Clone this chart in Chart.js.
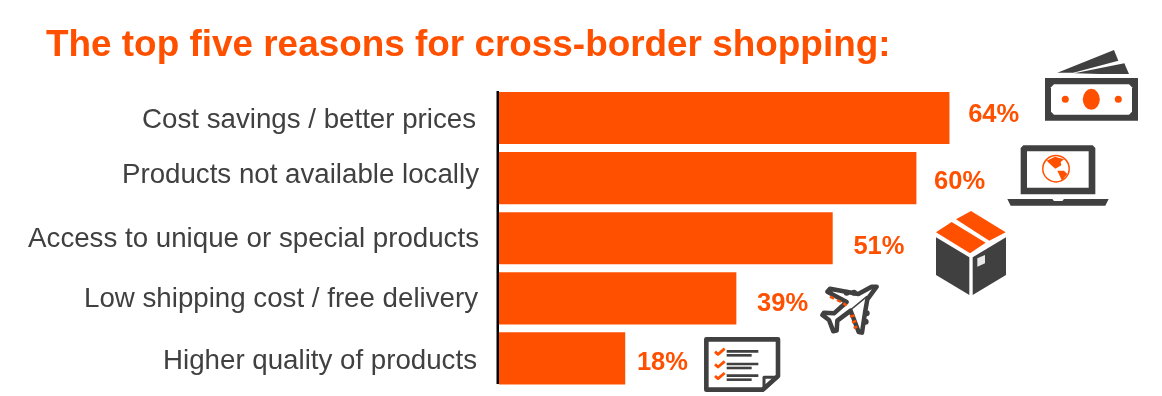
<!DOCTYPE html>
<html>
<head>
<meta charset="utf-8">
<style>
  html, body { margin: 0; padding: 0; background: #fff; }
  #chart { display: block; }
</style>
<script src="https://cdn.jsdelivr.net/npm/chart.js@4/dist/chart.umd.min.js"></script>
</head>
<body>
<canvas id="chart" width="1162" height="396"></canvas>
<script>
const titleText = 'The top five reasons for cross-border shopping:';
const categories = [
  'Cost savings / better prices',
  'Products not available locally',
  'Access to unique or special products',
  'Low shipping cost / free delivery',
  'Higher quality of products'
];
// bar lengths as drawn in the picture (it is not quite to scale with its labels)
const barLengths = [64, 59.3, 47.4, 33.7, 17.9];
const percentLabels = ['64%', '60%', '51%', '39%', '18%'];

const ORANGE = '#ff5000';
const DARK = '#404040';
const FONT = '"Liberation Sans", Arial, sans-serif';

// small hand offsets for the text, the source slide placed them by hand
const labelNudge = [[-3, 2], [0, -3], [0, 1], [-1, 1], [-2, 3]];
const percentNudge = [[19, -3], [18, 4], [21, 9], [21, 6], [12, 5]];

function poly(ctx, ox, oy, pts) {
  ctx.beginPath();
  pts.forEach((p, i) => {
    const x = ox + p[0] / 3, y = oy + p[1] / 3;
    if (i === 0) ctx.moveTo(x, y); else ctx.lineTo(x, y);
  });
  ctx.closePath();
}

function line(ctx, ox, oy, x1, y1, x2, y2, w, color) {
  ctx.beginPath();
  ctx.moveTo(ox + x1 / 3, oy + y1 / 3);
  ctx.lineTo(ox + x2 / 3, oy + y2 / 3);
  ctx.lineWidth = w;
  ctx.strokeStyle = color;
  ctx.stroke();
}

function fillPoly(ctx, ox, oy, pts, color) {
  poly(ctx, ox, oy, pts);
  ctx.fillStyle = color;
  ctx.fill();
}

function circle(ctx, x, y, rx, ry, color) {
  ctx.beginPath();
  ctx.ellipse(x, y, rx, ry, 0, 0, Math.PI * 2);
  ctx.fillStyle = color;
  ctx.fill();
}

// icons: points are in 3x crop coordinates, ox/oy is the crop origin
function drawMoney(ctx) {
  const ox = 940, oy = 40;
  fillPoly(ctx, ox, oy, [[352, 98], [522, 30], [535, 62], [400, 98]], DARK);
  fillPoly(ctx, ox, oy, [[403, 100], [553, 70], [567, 102], [480, 102]], DARK);
  fillPoly(ctx, ox, oy, [[315, 114], [594, 114], [594, 242], [315, 242]], DARK);
  fillPoly(ctx, ox, oy, [[342, 133], [567, 133], [576, 142], [576, 215], [567, 224], [342, 224], [333, 215], [333, 142]], '#fff');
  circle(ctx, 1091.3, 99.3, 8.5, 10.5, ORANGE);
  circle(ctx, 1065.3, 99.3, 3.5, 3.5, ORANGE);
  circle(ctx, 1118.3, 99.3, 3.5, 3.5, ORANGE);
}

function drawLaptop(ctx) {
  const ox = 940, oy = 40;
  fillPoly(ctx, ox, oy, [[250, 316], [458, 316], [466, 324], [466, 463], [242, 463], [242, 324]], DARK);
  fillPoly(ctx, ox, oy, [[261, 334], [446, 334], [446, 443], [261, 443]], '#fff');
  fillPoly(ctx, ox, oy, [[202, 477], [337, 477], [342, 483], [367, 483], [372, 477], [506, 477], [496, 497], [212, 497]], DARK);
  ctx.beginPath();
  ctx.arc(1056, 168.7, 13.2, 0, Math.PI * 2);
  ctx.lineWidth = 1.5;
  ctx.strokeStyle = ORANGE;
  ctx.stroke();
  fillPoly(ctx, ox, oy, [[320, 362], [345, 350], [372, 358], [362, 366], [364, 376], [346, 386], [334, 376]], ORANGE);
  fillPoly(ctx, ox, oy, [[352, 392], [372, 392], [382, 402], [366, 422], [358, 405]], ORANGE);
}

function drawBox(ctx) {
  const ox = 920, oy = 200;
  fillPoly(ctx, ox, oy, [[48, 97], [95, 66], [197, 128], [150, 160]], ORANGE);
  fillPoly(ctx, ox, oy, [[108, 58], [153, 33], [257, 97], [208, 122]], ORANGE);
  fillPoly(ctx, ox, oy, [[48, 112], [148, 172], [148, 285], [48, 225]], DARK);
  fillPoly(ctx, ox, oy, [[158, 172], [258, 112], [258, 225], [158, 285]], DARK);
  fillPoly(ctx, ox, oy, [[172, 175], [195, 165], [195, 190], [172, 200]], '#e8e8e8');
}

function drawPlane(ctx) {
  const ox = 690, oy = 270;
  ctx.lineJoin = 'round';
  ctx.lineCap = 'round';
  poly(ctx, ox, oy, [[560, 50], [532, 88], [526, 122], [516, 188], [506, 186], [482, 122], [442, 152],
    [440, 182], [430, 184], [417, 150], [397, 135], [402, 128], [432, 130], [470, 96], [412, 65], [420, 56], [505, 72], [545, 50]]);
  ctx.fillStyle = '#fff';
  ctx.fill();
  ctx.lineWidth = 4.5;
  ctx.strokeStyle = DARK;
  ctx.stroke();
  [[470, 68], [492, 68], [530, 130], [527, 155]].forEach(b => {
    circle(ctx, ox + b[0] / 3, oy + b[1] / 3, 3, 3, DARK);
  });
  line(ctx, ox, oy, 530, 80, 445, 150, 1.5, DARK);
  ctx.lineCap = 'butt';
  [[420, 80, 432, 86], [441, 90, 453, 96], [460, 100, 470, 106],
   [480, 140, 494, 136], [486, 157, 499, 153], [491, 174, 502, 170]].forEach(d => {
    line(ctx, ox, oy, d[0], d[1], d[2], d[3], 2.5, ORANGE);
  });
  ctx.lineJoin = 'miter';
}

function drawDoc(ctx) {
  const ox = 690, oy = 270;
  ctx.lineJoin = 'round';
  poly(ctx, ox, oy, [[49, 208], [264, 208], [264, 318], [218, 359], [49, 359]]);
  ctx.lineWidth = 4.6;
  ctx.strokeStyle = DARK;
  ctx.stroke();
  poly(ctx, ox, oy, [[222, 322], [262, 322], [222, 358]]);
  ctx.lineWidth = 3;
  ctx.stroke();
  [245, 283, 318].forEach(y => {
    ctx.beginPath();
    ctx.moveTo(ox + 75 / 3, oy + y / 3);
    ctx.lineTo(ox + 84 / 3, oy + (y + 8) / 3);
    ctx.lineTo(ox + 104 / 3, oy + (y - 9) / 3);
    ctx.lineWidth = 2.8;
    ctx.strokeStyle = ORANGE;
    ctx.stroke();
    line(ctx, ox, oy, 110, y - 1, 205, y - 1, 2.6, DARK);
    line(ctx, ox, oy, 110, y + 11, 185, y + 11, 2.6, DARK);
  });
  ctx.lineJoin = 'miter';
}

const decorPlugin = {
  id: 'decor',
  afterDraw(chart) {
    const ctx = chart.ctx;
    const x = chart.scales.x;
    const y = chart.scales.y;
    const baseX = x.getPixelForValue(0);
    ctx.save();

    // vertical axis line
    ctx.fillStyle = '#000';
    ctx.fillRect(baseX - 2.5, 91, 2.5, 293);

    categories.forEach((name, i) => {
      const cy = y.getPixelForValue(i);
      ctx.font = '27.7px ' + FONT;
      ctx.fillStyle = DARK;
      ctx.textAlign = 'right';
      ctx.textBaseline = 'middle';
      ctx.fillText(name, baseX - 20 + labelNudge[i][0], cy + labelNudge[i][1]);

      const endX = x.getPixelForValue(barLengths[i]);
      ctx.font = 'bold 25.5px ' + FONT;
      ctx.fillStyle = ORANGE;
      ctx.textAlign = 'left';
      ctx.fillText(percentLabels[i], endX + percentNudge[i][0], cy + percentNudge[i][1]);
    });

    drawMoney(ctx);
    drawLaptop(ctx);
    drawBox(ctx);
    drawPlane(ctx);
    drawDoc(ctx);
    ctx.restore();
  }
};

new Chart(document.getElementById('chart'), {
  type: 'bar',
  data: {
    labels: categories,
    datasets: [{
      data: barLengths,
      backgroundColor: ORANGE,
      borderWidth: 0,
      barThickness: 51.5
    }]
  },
  plugins: [decorPlugin],
  options: {
    indexAxis: 'y',
    responsive: false,
    animation: false,
    layout: { padding: { left: 46, right: 30, top: 0, bottom: 7.5 } },
    plugins: {
      legend: { display: false },
      tooltip: { enabled: false },
      title: {
        display: true,
        text: titleText,
        align: 'start',
        color: ORANGE,
        font: { family: FONT, size: 36.9, weight: 'bold', lineHeight: 1.2 },
        padding: { top: 24, bottom: 19.7 }
      }
    },
    scales: {
      x: { display: false, min: 0, max: 90 },
      y: {
        grid: { display: false },
        border: { display: false },
        ticks: { display: false },
        afterFit(scale) { scale.width = 453; }
      }
    }
  }
});
</script>
</body>
</html>
